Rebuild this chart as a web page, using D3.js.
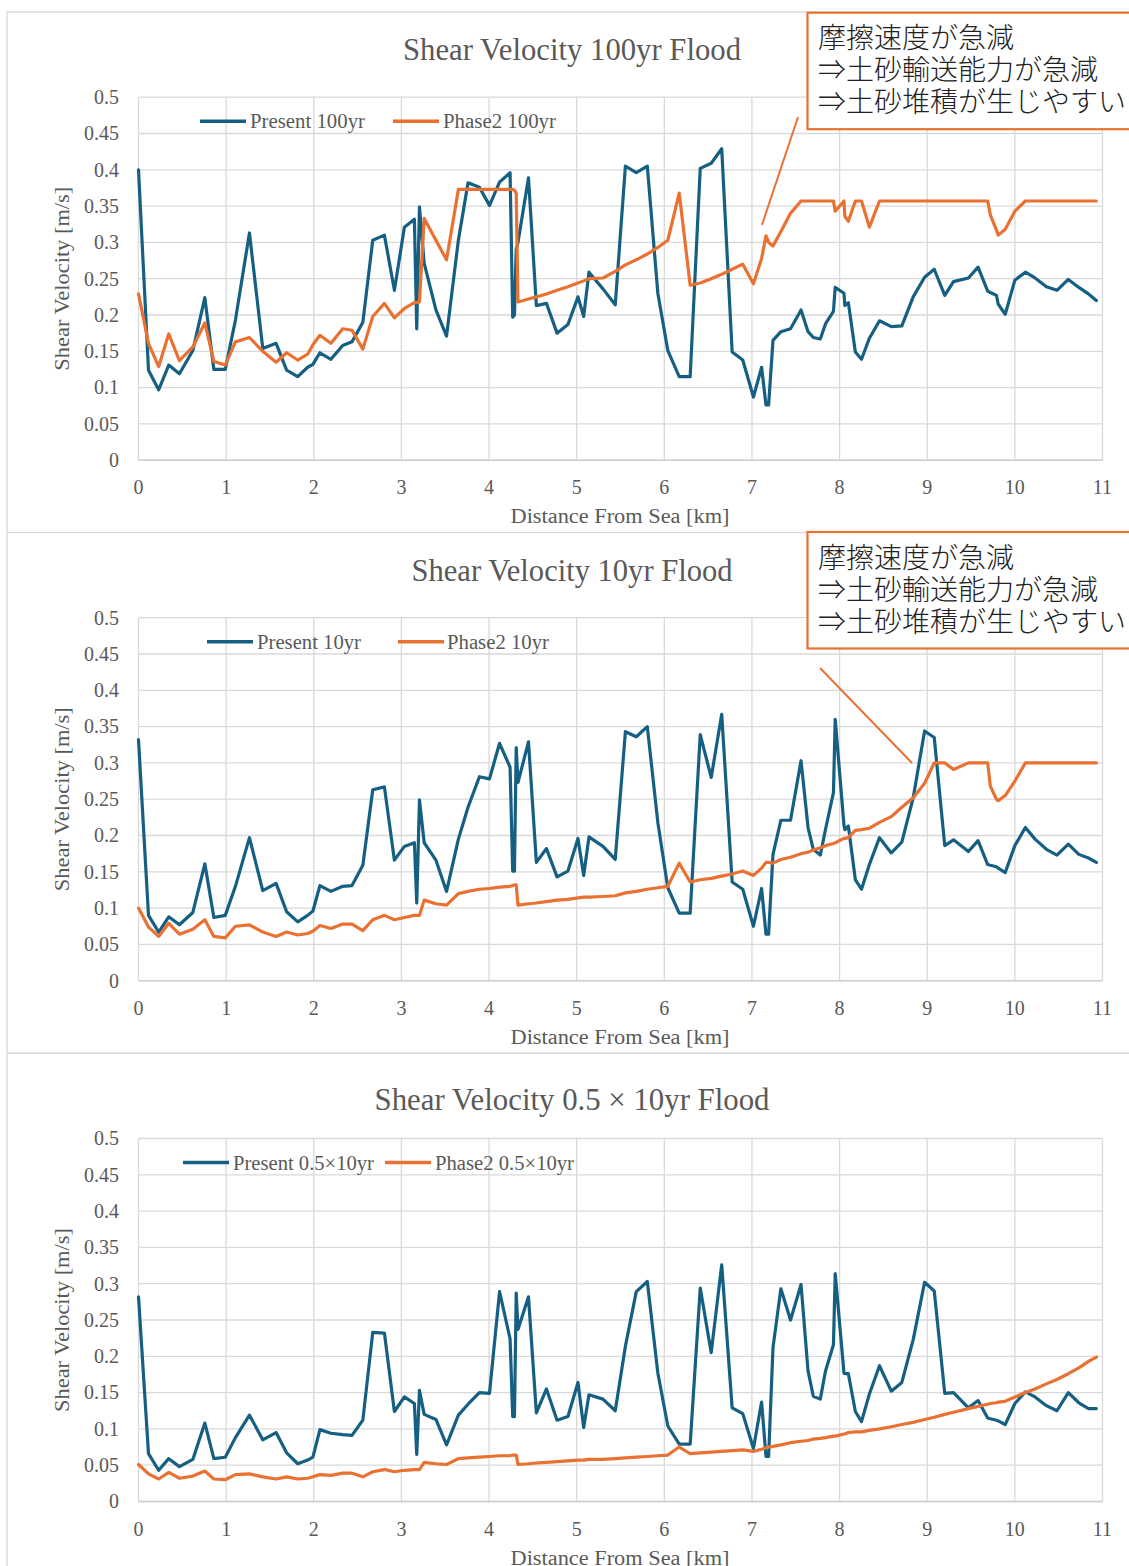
<!DOCTYPE html>
<html><head><meta charset="utf-8">
<script src="https://cdn.jsdelivr.net/npm/d3@7"></script>
<style>
body{margin:0;background:#fff;}
svg{display:block;}
</style></head><body>
<svg id="c" width="1129" height="1566"></svg>
<script>
// ---------- DATA ----------
const distanceKm = [0,0.114,0.23,0.345,0.467,0.62,0.757,0.86,0.99,1.106,
1.266,1.418,1.57,1.69,1.817,1.93,1.99,2.07,2.196,2.33,
2.436,2.56,2.673,2.806,2.92,3.034,3.148,3.175,3.206,3.26,
3.394,3.515,3.65,3.76,3.89,4.005,4.12,4.24,4.27,4.29,
4.31,4.33,4.45,4.54,4.655,4.776,4.9,5.015,5.08,5.14,
5.3,5.44,5.556,5.68,5.806,5.926,6.04,6.17,6.295,6.41,
6.535,6.655,6.774,6.895,7.017,7.11,7.16,7.19,7.24,7.33,
7.44,7.56,7.64,7.70,7.78,7.84,7.93,7.95,8.05,8.06,
8.1,8.18,8.25,8.34,8.455,8.59,8.71,8.84,8.97,9.08,
9.2,9.3,9.47,9.58,9.69,9.72,9.79,9.81,9.89,10.0,
10.12,10.23,10.36,10.48,10.61,10.73,10.84,10.93];

const present100yr = [0.40,0.124,0.097,0.131,0.119,0.151,0.224,0.125,0.125,0.193,
0.313,0.154,0.161,0.124,0.115,0.128,0.132,0.148,0.139,0.158,
0.163,0.19,0.303,0.31,0.234,0.321,0.332,0.181,0.349,0.271,
0.207,0.171,0.303,0.382,0.376,0.351,0.383,0.396,0.197,0.2,
0.29,0.30,0.389,0.213,0.216,0.175,0.187,0.225,0.198,0.259,
0.236,0.214,0.405,0.396,0.405,0.23,0.151,0.115,0.115,0.402,
0.409,0.429,0.149,0.138,0.087,0.128,0.076,0.076,0.165,0.177,
0.181,0.207,0.177,0.169,0.167,0.188,0.205,0.238,0.23,0.213,
0.217,0.149,0.139,0.168,0.192,0.184,0.185,0.225,0.252,0.263,
0.227,0.246,0.251,0.266,0.233,0.231,0.227,0.215,0.201,0.248,
0.259,0.251,0.239,0.234,0.249,0.238,0.229,0.22];

const phase2_100yr = [0.229,0.161,0.129,0.174,0.137,0.156,0.189,0.136,0.131,0.163,
0.169,0.150,0.135,0.148,0.138,0.146,0.159,0.172,0.161,0.181,
0.179,0.153,0.198,0.216,0.196,0.209,0.217,0.217,0.218,0.333,
0.303,0.276,0.373,0.373,0.373,0.373,0.373,0.373,0.373,0.372,
0.368,0.218,0.222,0.225,0.229,0.234,0.239,0.244,0.247,0.250,
0.251,0.260,0.269,0.276,0.284,0.293,0.303,0.368,0.241,0.244,
0.250,0.256,0.263,0.270,0.243,0.278,0.309,0.300,0.295,0.315,
0.340,0.357,0.357,0.357,0.357,0.357,0.357,0.343,0.357,0.336,
0.329,0.357,0.357,0.321,0.357,0.357,0.357,0.357,0.357,0.357,
0.357,0.357,0.357,0.357,0.357,0.338,0.317,0.310,0.318,0.343,
0.357,0.357,0.357,0.357,0.357,0.357,0.357,0.357];

const present10yr = [0.332,0.090,0.067,0.088,0.077,0.094,0.161,0.087,0.090,0.130,
0.197,0.124,0.134,0.095,0.081,0.090,0.096,0.131,0.123,0.130,
0.131,0.159,0.263,0.267,0.166,0.185,0.190,0.107,0.249,0.190,
0.166,0.123,0.195,0.239,0.281,0.278,0.327,0.294,0.151,0.151,
0.321,0.273,0.329,0.163,0.182,0.143,0.151,0.196,0.145,0.198,
0.185,0.167,0.343,0.336,0.350,0.218,0.128,0.093,0.093,0.339,
0.280,0.367,0.136,0.126,0.075,0.127,0.064,0.064,0.174,0.221,
0.221,0.303,0.211,0.181,0.173,0.209,0.259,0.360,0.214,0.208,
0.213,0.139,0.126,0.160,0.197,0.176,0.191,0.252,0.344,0.335,
0.186,0.194,0.178,0.193,0.160,0.159,0.157,0.155,0.149,0.186,
0.211,0.195,0.181,0.173,0.188,0.174,0.169,0.163];

const phase2_10yr = [0.100,0.074,0.061,0.079,0.064,0.071,0.084,0.061,0.059,0.075,
0.077,0.067,0.061,0.067,0.063,0.065,0.068,0.076,0.072,0.078,
0.078,0.069,0.084,0.090,0.084,0.087,0.090,0.090,0.090,0.111,
0.106,0.104,0.120,0.123,0.126,0.127,0.129,0.130,0.131,0.132,
0.132,0.104,0.106,0.107,0.109,0.111,0.112,0.114,0.115,0.115,
0.116,0.117,0.121,0.123,0.126,0.128,0.130,0.162,0.136,0.139,
0.141,0.144,0.147,0.151,0.145,0.155,0.163,0.163,0.162,0.167,
0.170,0.175,0.177,0.180,0.183,0.186,0.189,0.190,0.196,0.196,
0.197,0.207,0.208,0.210,0.218,0.226,0.239,0.252,0.272,0.300,
0.300,0.291,0.300,0.300,0.300,0.268,0.250,0.248,0.255,0.275,
0.300,0.300,0.300,0.300,0.300,0.300,0.300,0.300];

const presentHalf10yr = [0.282,0.066,0.043,0.059,0.048,0.058,0.108,0.059,0.061,0.088,
0.119,0.085,0.095,0.067,0.052,0.057,0.061,0.099,0.094,0.092,
0.091,0.112,0.233,0.232,0.124,0.144,0.135,0.065,0.153,0.12,
0.113,0.078,0.119,0.134,0.150,0.149,0.289,0.224,0.117,0.117,
0.287,0.237,0.282,0.122,0.155,0.112,0.117,0.164,0.102,0.147,
0.141,0.125,0.214,0.289,0.303,0.177,0.104,0.079,0.079,0.294,
0.205,0.326,0.129,0.121,0.073,0.137,0.062,0.062,0.212,0.293,
0.25,0.299,0.18,0.145,0.141,0.18,0.216,0.314,0.177,0.176,
0.176,0.124,0.11,0.148,0.187,0.152,0.164,0.223,0.302,0.29,
0.149,0.15,0.129,0.139,0.115,0.114,0.112,0.111,0.106,0.135,
0.151,0.144,0.132,0.125,0.15,0.136,0.128,0.128];

const phase2Half10yr = [0.051,0.038,0.031,0.040,0.032,0.035,0.042,0.031,0.030,0.037,
0.038,0.034,0.031,0.034,0.031,0.032,0.034,0.037,0.036,0.039,
0.039,0.034,0.041,0.044,0.041,0.043,0.044,0.044,0.044,0.054,
0.052,0.051,0.059,0.060,0.061,0.062,0.063,0.063,0.064,0.064,
0.064,0.051,0.052,0.053,0.054,0.055,0.056,0.057,0.057,0.058,
0.058,0.059,0.060,0.061,0.062,0.063,0.064,0.075,0.066,0.067,
0.068,0.069,0.070,0.071,0.069,0.072,0.074,0.075,0.076,0.078,
0.081,0.083,0.084,0.086,0.087,0.088,0.090,0.090,0.093,0.093,
0.095,0.096,0.096,0.098,0.100,0.103,0.106,0.109,0.113,0.116,
0.120,0.123,0.128,0.131,0.134,0.135,0.136,0.137,0.138,0.144,
0.150,0.155,0.162,0.168,0.176,0.184,0.193,0.199];

const xTickValues = [0,1,2,3,4,5,6,7,8,9,10,11];
const yTickValues = [0,0.05,0.1,0.15,0.2,0.25,0.3,0.35,0.4,0.45,0.5];
const yTickLabels = ["0","0.05","0.1","0.15","0.2","0.25","0.3","0.35","0.4","0.45","0.5"];

const chartTitles = ["Shear Velocity 100yr Flood","Shear Velocity 10yr Flood","Shear Velocity 0.5 × 10yr Flood"];
const presentNames = ["Present 100yr","Present 10yr","Present 0.5×10yr"];
const phase2Names = ["Phase2 100yr","Phase2 10yr","Phase2 0.5×10yr"];
const xAxisTitle = "Distance From Sea [km]";
const yAxisTitle = "Shear Velocity [m/s]";
const noteLines = ["摩擦速度が急減","⇒土砂輸送能力が急減","⇒土砂堆積が生じやすい"];

const presentSeries = [present100yr, present10yr, presentHalf10yr];
const phase2Series = [phase2_100yr, phase2_10yr, phase2Half10yr];

// ---------- LAYOUT ----------
const BLUE = "#156082", ORANGE = "#E97132", GRID = "#d9d9d9", TXT = "#595959";
const SERIF = "'Liberation Serif','Times New Roman',serif";
const CJK = "'Noto Sans CJK JP','Noto Sans CJK SC',sans-serif";

const layouts = [
  {top:12,   titleY:60,   titleW:338, leg:[200,250,115,393,443,113]},
  {top:532.5,titleY:581,  titleW:321, leg:[207,257,104,398,447,102]},
  {top:1053.3,titleY:1110,titleW:395, leg:[183,233,141,385,435,139]}
];

const svg = d3.select("#c");
svg.append("rect").attr("width",1129).attr("height",1566).attr("fill","#fff");

const x = d3.scaleLinear().domain([0,11]).range([138.5,1102.5]);

layouts.forEach((L, i) => {
  const g = svg.append("g");
  g.append("rect").attr("x",7).attr("y",L.top).attr("width",1140).attr("height",520.7)
    .attr("fill","#fff").attr("stroke",GRID).attr("stroke-width",1.3);

  const plotTop = L.top + 85.2, plotBottom = plotTop + 363;
  const y = d3.scaleLinear().domain([0,0.5]).range([plotBottom, plotTop]);

  // gridlines
  g.append("g").selectAll("line").data(yTickValues).join("line")
    .attr("x1",x(0)).attr("x2",x(11)).attr("y1",d=>y(d)).attr("y2",d=>y(d))
    .attr("stroke",GRID).attr("stroke-width",1.3);
  g.append("g").selectAll("line").data(xTickValues).join("line")
    .attr("x1",d=>x(d)).attr("x2",d=>x(d)).attr("y1",y(0)).attr("y2",y(0.5))
    .attr("stroke",GRID).attr("stroke-width",1.3);
  g.append("line").attr("x1",x(0)).attr("x2",x(11)).attr("y1",y(0)).attr("y2",y(0))
    .attr("stroke","#cfcfcf").attr("stroke-width",1.4);

  // tick labels
  g.append("g").selectAll("text").data(yTickValues).join("text")
    .attr("x",119).attr("y",d=>y(d)+6.8).attr("text-anchor","end")
    .attr("font-family",SERIF).attr("font-size",20).attr("fill",TXT)
    .text((d,k)=>yTickLabels[k]);
  g.append("g").selectAll("text").data(xTickValues).join("text")
    .attr("x",d=>x(d)).attr("y",plotBottom+34).attr("text-anchor","middle")
    .attr("font-family",SERIF).attr("font-size",20).attr("fill",TXT)
    .text(d=>String(d));

  // axis titles
  g.append("text").attr("x",620).attr("y",plotBottom+63).attr("text-anchor","middle")
    .attr("font-family",SERIF).attr("font-size",20).attr("fill",TXT)
    .attr("textLength",219).attr("lengthAdjust","spacingAndGlyphs").text(xAxisTitle);
  g.append("text").attr("transform",`translate(69,${(plotTop+plotBottom)/2}) rotate(-90)`)
    .attr("text-anchor","middle")
    .attr("font-family",SERIF).attr("font-size",20).attr("fill",TXT)
    .attr("textLength",184).attr("lengthAdjust","spacingAndGlyphs").text(yAxisTitle);

  // title
  g.append("text").attr("x",572).attr("y",L.titleY).attr("text-anchor","middle")
    .attr("font-family",SERIF).attr("font-size",31).attr("fill",TXT)
    .attr("textLength",L.titleW).attr("lengthAdjust","spacingAndGlyphs").text(chartTitles[i]);

  // series
  const pres = presentSeries[i], ph = phase2Series[i];
  const n = Math.min(distanceKm.length, pres.length, ph.length);
  const line = d3.line().x(d=>x(d[0])).y(d=>y(d[1]));
  const pData = d3.range(n).map(k=>[distanceKm[k], pres[k]]);
  const oData = d3.range(n).map(k=>[distanceKm[k], ph[k]]);
  g.append("path").datum(pData).attr("d",line).attr("fill","none")
    .attr("stroke",BLUE).attr("stroke-width",3.2).attr("stroke-linejoin","round").attr("stroke-linecap","round");
  g.append("path").datum(oData).attr("d",line).attr("fill","none")
    .attr("stroke",ORANGE).attr("stroke-width",3.2).attr("stroke-linejoin","round").attr("stroke-linecap","round");

  // legend
  const ly = plotTop + 24;
  const lg = L.leg;
  g.append("line").attr("x1",lg[0]).attr("x2",lg[0]+46).attr("y1",ly).attr("y2",ly)
    .attr("stroke",BLUE).attr("stroke-width",3.5);
  g.append("text").attr("x",lg[1]).attr("y",ly+7).attr("font-family",SERIF).attr("font-size",20)
    .attr("fill",TXT).attr("textLength",lg[2]).attr("lengthAdjust","spacingAndGlyphs").text(presentNames[i]);
  g.append("line").attr("x1",lg[3]).attr("x2",lg[3]+46).attr("y1",ly).attr("y2",ly)
    .attr("stroke",ORANGE).attr("stroke-width",3.5);
  g.append("text").attr("x",lg[4]).attr("y",ly+7).attr("font-family",SERIF).attr("font-size",20)
    .attr("fill",TXT).attr("textLength",lg[5]).attr("lengthAdjust","spacingAndGlyphs").text(phase2Names[i]);
});

// ---------- ANNOTATIONS ----------
const notes = [
  {boxY:12.7, line:[798,117,762,225]},
  {boxY:532,  line:[820,668,912,763]}
];
notes.forEach(N => {
  const g = svg.append("g");
  g.append("line").attr("x1",N.line[0]).attr("y1",N.line[1]).attr("x2",N.line[2]).attr("y2",N.line[3])
    .attr("stroke",ORANGE).attr("stroke-width",2);
  g.append("rect").attr("x",807.5).attr("y",N.boxY).attr("width",340).attr("height",116.5)
    .attr("fill","#fff").attr("stroke",ORANGE).attr("stroke-width",2.2);
  noteLines.forEach((t,k)=>{
    g.append("text").attr("x",818).attr("y",N.boxY + 35.5 + k*32)
      .attr("font-family",CJK).attr("font-size",28).attr("font-weight",300).attr("fill","#222")
      .text(t);
  });
});
</script>
</body></html>
